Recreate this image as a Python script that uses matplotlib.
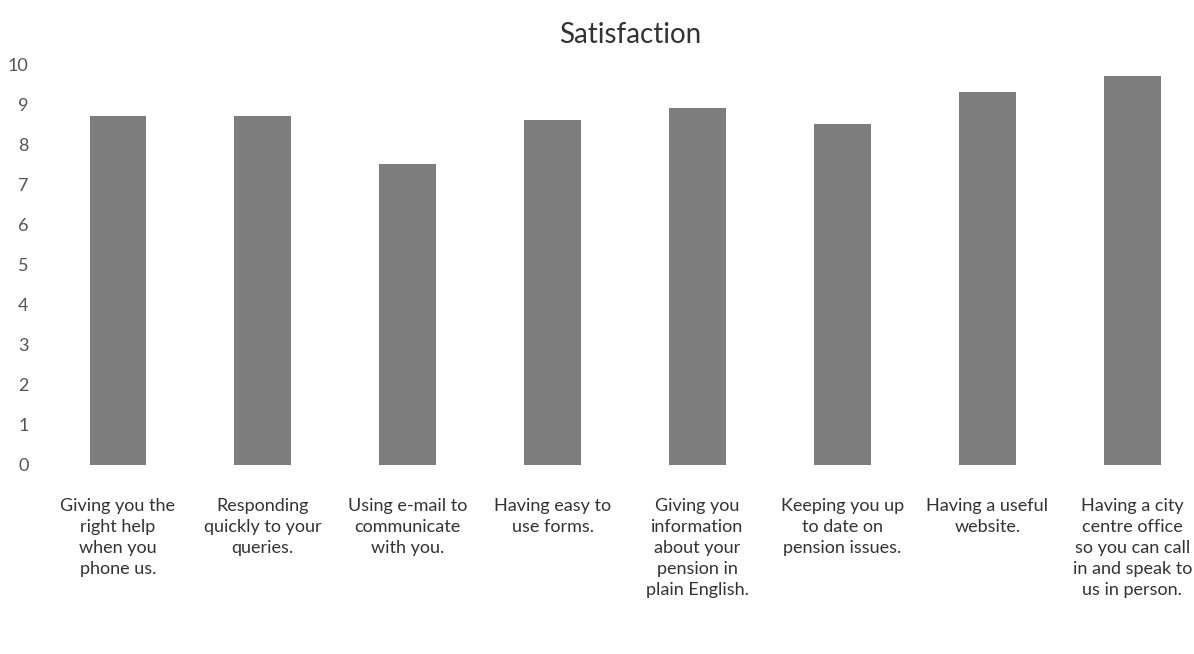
import matplotlib
matplotlib.use("Agg")
import matplotlib.pyplot as plt

# Survey items and their average satisfaction scores (0-10)
categories = [
    "Giving you the\nright help\nwhen you\nphone us.",
    "Responding\nquickly to your\nqueries.",
    "Using e-mail to\ncommunicate\nwith you.",
    "Having easy to\nuse forms.",
    "Giving you\ninformation\nabout your\npension in\nplain English.",
    "Keeping you up\nto date on\npension issues.",
    "Having a useful\nwebsite.",
    "Having a city\ncentre office\nso you can call\nin and speak to\nus in person.",
]
scores = [8.7, 8.7, 7.5, 8.6, 8.9, 8.5, 9.3, 9.7]
y_ticks = list(range(0, 11))

plt.rcParams["font.family"] = ["Lato", "DejaVu Sans"]

fig = plt.figure(figsize=(11.94, 6.54), dpi=100)
ax = fig.add_axes([0.038, 0.289, 0.971, 0.613])

x = list(range(len(categories)))
ax.bar(x, scores, width=0.39, color="#7d7d7d")

ax.set_xlim(-0.5, len(categories) - 0.5)
ax.set_ylim(0, 10)
ax.set_yticks(y_ticks)
ax.set_yticklabels([str(t) for t in y_ticks], fontsize=13, color="#555555")
ax.set_xticks(x)
ax.set_xticklabels(categories, fontsize=13, color="#333333",
                   linespacing=1.38, va="top")
ax.tick_params(axis="y", length=0, pad=12)
ax.tick_params(axis="x", length=0, pad=24)
for spine in ax.spines.values():
    spine.set_visible(False)

fig.text(0.528, 0.947, "Satisfaction", ha="center", va="center",
         fontsize=20, color="#333333")

fig.savefig("out.png", dpi=100, facecolor="white")
